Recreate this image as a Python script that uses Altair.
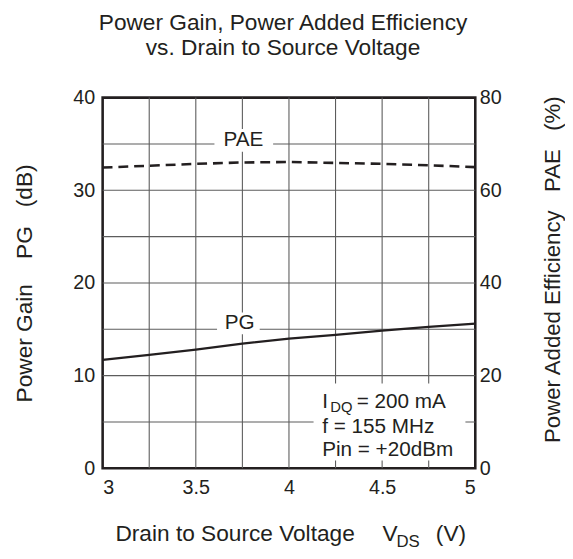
import altair as alt
import pandas as pd

# ---- data ----
vds = [3.0, 3.25, 3.5, 3.75, 4.0, 4.25, 4.5, 4.75, 5.0]
pg_db = [11.7, 12.25, 12.8, 13.45, 14.0, 14.4, 14.85, 15.25, 15.6]
pae_pct = [64.9, 65.3, 65.7, 66.0, 66.1, 65.9, 65.7, 65.4, 65.0]

x_ticks = [3, 3.5, 4, 4.5, 5]
pg_ticks = [0, 10, 20, 30, 40]
pae_ticks = [0, 20, 40, 60, 80]
grid_x = [3.25, 3.5, 3.75, 4.0, 4.25, 4.5, 4.75]
grid_y = [5, 10, 15, 20, 25, 30, 35]

curve_labels = ["PAE", "PG"]
curve_label_x = [3.755, 3.735]
curve_label_y = [35.4, 15.64]

# white label backgrounds (data units of the left axis)
box_x0 = [3.60, 3.614, 4.132]
box_x1 = [3.915, 3.843, 4.947]
box_y0 = [34.15, 14.47, 0.85]
box_y1 = [36.6, 16.8, 9.15]

cond_lines = ["I", "f = 155 MHz", "Pin = +20dBm"]
cond_x = [4.178, 4.178, 4.178]
cond_y = [6.49, 3.83, 1.35]

NB = "\u00a0"
FONT = "Liberation Sans"
INK = "#231f20"
GRID = "#5c5c5c"
W, H = 378, 376

curves = pd.DataFrame({"vds": vds, "pg": pg_db, "pae": pae_pct})
one = pd.DataFrame({"k": [0]})

x_scale = alt.Scale(domain=[3, 5], nice=False, zero=False)
x_axis = alt.Axis(values=x_ticks, format="~g", title=None, grid=False, ticks=False,
                  tickSize=0, domain=False, labelFont=FONT, labelFontSize=20,
                  labelColor=INK, labelPadding=10)
yl_scale = alt.Scale(domain=[0, 40], nice=False, zero=False)
yl_axis = alt.Axis(values=pg_ticks, grid=False, ticks=False, tickSize=0, domain=False,
                   labelFont=FONT, labelFontSize=20, labelColor=INK, labelPadding=8,
                   title="Power Gain" + NB * 4 + "PG" + NB * 3 + "(dB)",
                   titleFont=FONT, titleFontSize=23,
                   titleFontWeight="normal", titleColor=INK, titleAngle=270,
                   titleX=-72, titleY=188, titleAlign="center",
                   titleBaseline="alphabetic")
yr_scale = alt.Scale(domain=[0, 80], nice=False, zero=False)
yr_axis = alt.Axis(orient="right", values=pae_ticks, grid=False, ticks=False, tickSize=0,
                   domain=False, labelFont=FONT, labelFontSize=20, labelColor=INK,
                   labelPadding=4,
                   title="Power Added Efficiency" + NB * 3 + "PAE" + NB * 3 + "(%)",
                   titleFont=FONT, titleFontSize=22.5, titleFontWeight="normal",
                   titleColor=INK, titleAngle=270, titleX=85, titleY=174,
                   titleAlign="center", titleBaseline="alphabetic")


def X(field):
    return alt.X(field, type="quantitative", scale=x_scale, axis=x_axis)


def YL(field):
    return alt.Y(field, type="quantitative", scale=yl_scale, axis=yl_axis)


grid_v = alt.Chart(pd.DataFrame({"gx": grid_x})).mark_rule(
    color=GRID, strokeWidth=1.1).encode(x=X("gx"))
grid_h = alt.Chart(pd.DataFrame({"gy": grid_y})).mark_rule(
    color=GRID, strokeWidth=1.1).encode(y=YL("gy"))

boxes = alt.Chart(pd.DataFrame({"x0": box_x0, "x1": box_x1, "y0": box_y0, "y1": box_y1})
                  ).mark_rect(color="white").encode(
    x=X("x0"), x2="x1", y=YL("y0"), y2="y1")

pg_line = alt.Chart(curves).mark_line(color=INK, strokeWidth=2.3).encode(
    x=X("vds"), y=YL("pg"))

lbls = alt.Chart(pd.DataFrame({"x": curve_label_x, "y": curve_label_y, "t": curve_labels})
                 ).mark_text(font=FONT, fontSize=21, color=INK, align="center",
                             baseline="middle").encode(x=X("x"), y=YL("y"), text="t:N")

cond = alt.Chart(pd.DataFrame({"x": cond_x, "y": cond_y, "t": cond_lines})).mark_text(
    font=FONT, fontSize=21, color=INK, align="left", baseline="alphabetic").encode(
    x=X("x"), y=YL("y"), text="t:N")
cond_sub = alt.Chart(pd.DataFrame({"x": [4.222], "y": [6.06], "t": ["DQ"]})).mark_text(
    font=FONT, fontSize=15, color=INK, align="left", baseline="alphabetic").encode(
    x=X("x"), y=YL("y"), text="t:N")
cond_rest = alt.Chart(pd.DataFrame({"x": [4.3635], "y": [6.49], "t": ["= 200 mA"]})).mark_text(
    font=FONT, fontSize=21, color=INK, align="left", baseline="alphabetic").encode(
    x=X("x"), y=YL("y"), text="t:N")


def txt(s, x, y, size, align="left"):
    return alt.Chart(one).mark_text(font=FONT, fontSize=size, color=INK, align=align,
                                    baseline="alphabetic").encode(
        x=alt.value(x), y=alt.value(y), text=alt.value(s))


title1 = txt("Power Gain, Power Added Efficiency", 183, -69, 23, "center")
title2 = txt("vs. Drain to Source Voltage", 183, -43, 23, "center")
xt1 = txt("Drain to Source Voltage", 13, 450, 23)
xt1b = txt("V", 284, 450, 23)
xt2 = txt("DS", 298, 456, 17)
xt3 = txt("(V)", 338, 450, 23)

left = alt.layer(grid_v, grid_h, boxes, pg_line, lbls, cond, cond_sub, cond_rest,
                 title1, title2, xt1, xt1b, xt2, xt3)

pae_line = alt.Chart(curves).mark_line(color=INK, strokeWidth=2.6,
                                       strokeDash=[10, 6]).encode(
    x=X("vds"),
    y=alt.Y("pae", type="quantitative", scale=yr_scale, axis=yr_axis))

chart = alt.layer(left, pae_line).resolve_scale(y="independent").properties(
    width=W, height=H,
    autosize=alt.AutoSizeParams(type="none"),
    padding={"left": 96, "top": 87, "right": 91, "bottom": 80},
    background="white",
).configure_view(stroke=INK, strokeWidth=2.6)

chart.save("out.html", embed_options={"renderer": "svg", "actions": False})
